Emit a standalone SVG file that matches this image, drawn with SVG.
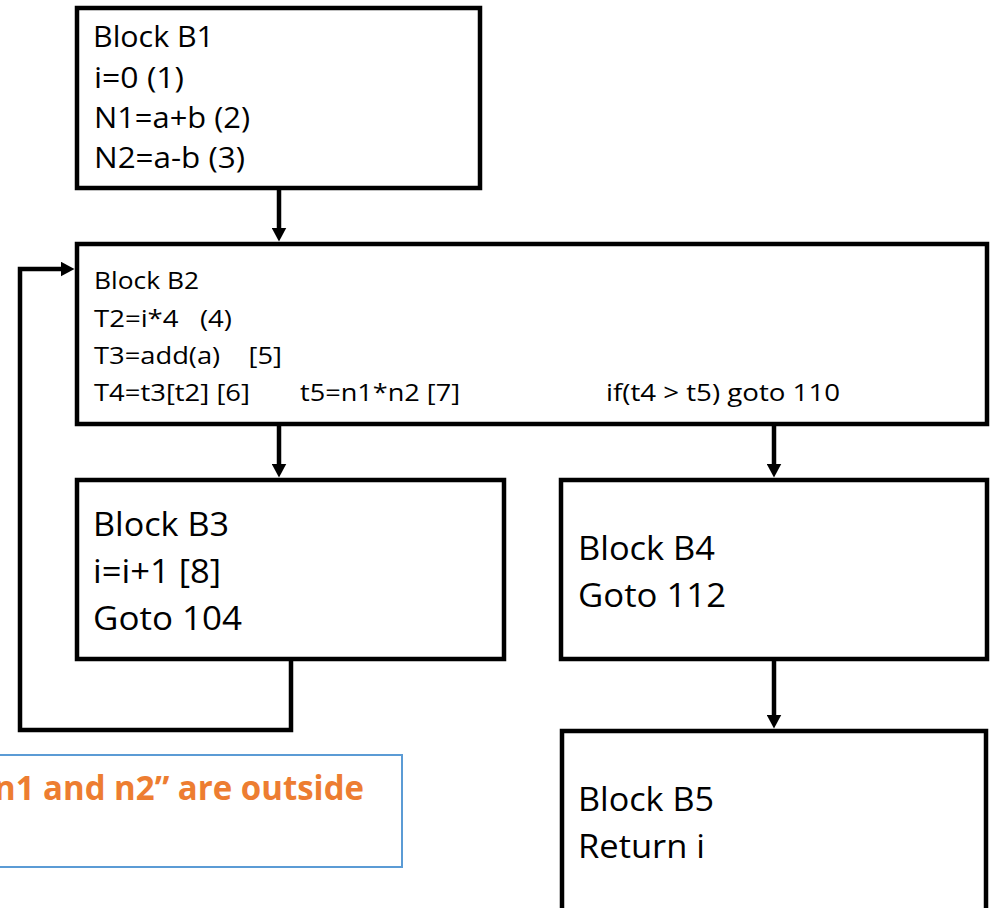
<svg xmlns="http://www.w3.org/2000/svg" width="990" height="908" viewBox="0 0 990 908">
  <style>
    .box { fill: #ffffff; stroke: #000000; stroke-width: 4.5; }
    .t { font-family: "Open Sans", "Noto Sans", sans-serif; fill: #000000; }
    .s29 { font-size: 29px; }
    .s24 { font-size: 24px; }
    .s33 { font-size: 33px; }
    .conn { fill: none; stroke: #000000; stroke-width: 4.5; stroke-linejoin: miter; }
    .note { fill: #ffffff; stroke: #5B9BD5; stroke-width: 2; }
    .noteText { font-family: "Open Sans", "Noto Sans", sans-serif; font-weight: bold; font-size: 34px; fill: #ED7D31; }
  </style>
  <defs>
    <marker id="arrow" markerUnits="userSpaceOnUse" markerWidth="15" markerHeight="15" refX="0.5" refY="7.5" orient="auto">
      <path d="M0,0 L14,7.5 L0,15 z" fill="#000000"/>
    </marker>
  </defs>

  <rect width="990" height="908" fill="#ffffff"/>

  <!-- flow edges -->
  <g id="connectors">
    <line class="conn" x1="279" y1="190" x2="279" y2="228" marker-end="url(#arrow)"/>
    <line class="conn" x1="279" y1="426" x2="279" y2="464" marker-end="url(#arrow)"/>
    <line class="conn" x1="774" y1="426" x2="774" y2="464" marker-end="url(#arrow)"/>
    <line class="conn" x1="774" y1="661" x2="774" y2="715" marker-end="url(#arrow)"/>
    <!-- back edge B3 -> B2 -->
    <path class="conn" d="M291,661 V730 H20 V269 H61" marker-end="url(#arrow)"/>
  </g>

  <g id="B1">
    <rect class="box" x="77" y="8" width="403" height="180"/>
    <text class="t s29" x="93" y="47" textLength="121" lengthAdjust="spacingAndGlyphs">Block B1</text>
    <text class="t s29" x="94" y="88" textLength="90" lengthAdjust="spacingAndGlyphs">i=0 (1)</text>
    <text class="t s29" x="94" y="128" textLength="156" lengthAdjust="spacingAndGlyphs">N1=a+b (2)</text>
    <text class="t s29" x="94" y="168" textLength="151" lengthAdjust="spacingAndGlyphs">N2=a-b (3)</text>
  </g>

  <g id="B2">
    <rect class="box" x="77" y="244" width="910" height="180"/>
    <text class="t s24" x="94" y="289" textLength="105" lengthAdjust="spacingAndGlyphs">Block B2</text>
    <text class="t s24" x="94" y="327" xml:space="preserve" textLength="138" lengthAdjust="spacingAndGlyphs">T2=i*4   (4)</text>
    <text class="t s24" x="94" y="364" xml:space="preserve" textLength="188" lengthAdjust="spacingAndGlyphs">T3=add(a)    [5]</text>
    <text class="t s24" x="94" y="401" textLength="156" lengthAdjust="spacingAndGlyphs">T4=t3[t2] [6]</text>
    <text class="t s24" x="300" y="401" textLength="160" lengthAdjust="spacingAndGlyphs">t5=n1*n2 [7]</text>
    <text class="t s24" x="606" y="401" textLength="234" lengthAdjust="spacingAndGlyphs">if(t4 &gt; t5) goto 110</text>
  </g>

  <g id="B3">
    <rect class="box" x="77" y="480" width="427" height="179"/>
    <text class="t s33" x="93" y="536" textLength="136" lengthAdjust="spacingAndGlyphs">Block B3</text>
    <text class="t s33" x="93" y="583" textLength="128" lengthAdjust="spacingAndGlyphs">i=i+1 [8]</text>
    <text class="t s33" x="93" y="630" textLength="149" lengthAdjust="spacingAndGlyphs">Goto 104</text>
  </g>

  <g id="B4">
    <rect class="box" x="561" y="480" width="426" height="179"/>
    <text class="t s33" x="578" y="560" textLength="137" lengthAdjust="spacingAndGlyphs">Block B4</text>
    <text class="t s33" x="578" y="607" textLength="148" lengthAdjust="spacingAndGlyphs">Goto 112</text>
  </g>

  <g id="B5">
    <rect class="box" x="562" y="731" width="424" height="240"/>
    <text class="t s33" x="578" y="811" textLength="136" lengthAdjust="spacingAndGlyphs">Block B5</text>
    <text class="t s33" x="578" y="858" textLength="127" lengthAdjust="spacingAndGlyphs">Return i</text>
  </g>

  <g id="note">
    <rect class="note" x="-300" y="755" width="702" height="112"/>
    <text class="noteText" x="-6" y="800" textLength="370" lengthAdjust="spacingAndGlyphs">n1 and n2” are outside</text>
  </g>
</svg>
